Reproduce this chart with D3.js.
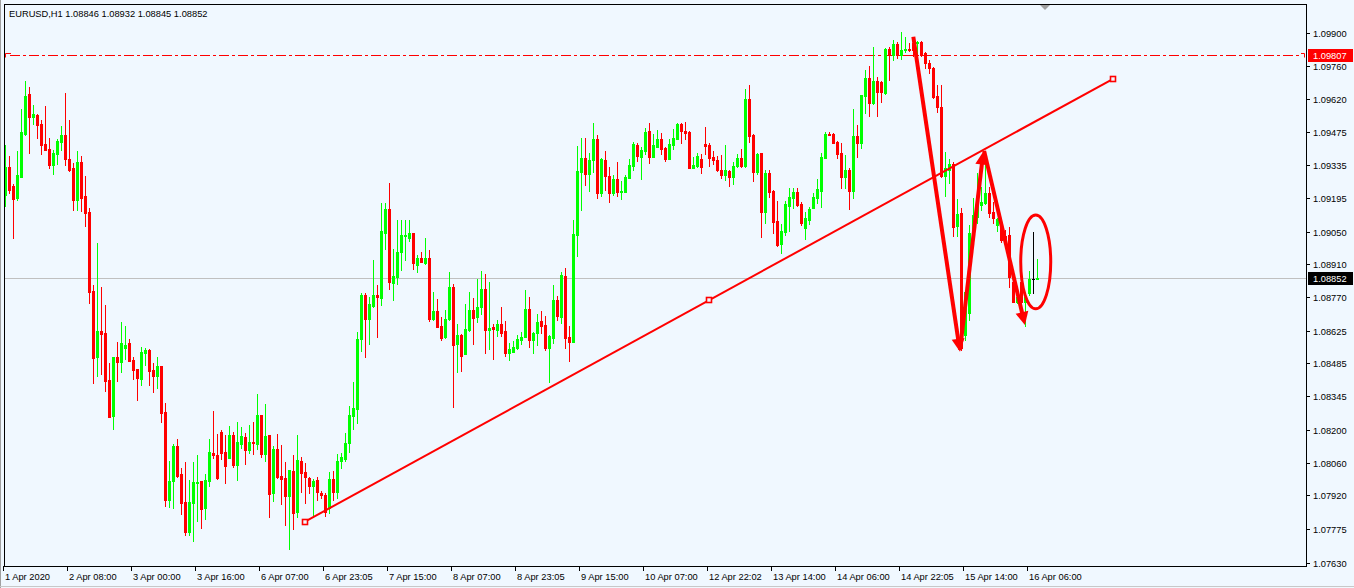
<!DOCTYPE html>
<html><head><meta charset="utf-8">
<script src="https://cdn.jsdelivr.net/npm/d3@7"></script>
<style>
html,body{margin:0;padding:0;background:#F0F8FF;overflow:hidden;}
svg{display:block;}
text{font-family:Tahoma,"Liberation Sans",Arial,sans-serif;font-size:9.3px;fill:#000;}
</style></head><body>
<svg id="c" width="1354" height="588"></svg>
<script>
const headerText = "EURUSD,H1  1.08846 1.08932 1.08845 1.08852";
const openP = [1.09207,1.09327,1.09245,1.09195,1.09283,1.09468,1.09640,1.09543,1.09549,1.09511,
1.09426,1.09404,1.09337,1.09383,1.09434,1.09464,1.09361,1.09323,1.09186,1.09348,
1.09203,1.09134,1.08796,1.08514,1.08624,1.08615,1.08414,1.08261,1.08513,1.08492,
1.08552,1.08573,1.08500,1.08461,1.08420,1.08531,1.08543,1.08458,1.08432,1.08474,
1.08277,1.07901,1.07982,1.08131,1.08012,1.07892,1.07764,1.07888,1.07973,1.07980,
1.07867,1.07982,1.08101,1.08093,1.08191,1.08105,1.08081,1.08178,1.08051,1.08141,
1.08170,1.08115,1.08148,1.08141,1.08264,1.08098,1.08178,1.07931,1.08118,1.08004,
1.07995,1.07918,1.08025,1.07850,1.08067,1.08020,1.07993,1.07960,1.07985,1.07928,
1.07921,1.07864,1.07988,1.07935,1.08067,1.08077,1.08143,1.08260,1.08291,1.08590,
1.08778,1.08675,1.08732,1.08778,1.08767,1.09044,1.09147,1.08831,1.08857,1.08963,
1.09031,1.09023,1.09044,1.08907,1.08937,1.08916,1.08937,1.08675,1.08710,1.08645,
1.08600,1.08675,1.08813,1.08570,1.08607,1.08527,1.08628,1.08714,1.08684,1.08727,
1.08804,1.08630,1.08641,1.08630,1.08654,1.08625,1.08531,1.08535,1.08552,1.08587,
1.08600,1.08718,1.08587,1.08617,1.08668,1.08651,1.08552,1.08595,1.08757,1.08685,
1.08860,1.08600,1.08578,1.09037,1.09307,1.09367,1.09298,1.09358,1.09448,1.09217,
1.09358,1.09290,1.09217,1.09277,1.09221,1.09221,1.09281,1.09333,1.09423,1.09371,
1.09397,1.09483,1.09371,1.09414,1.09448,1.09410,1.09363,1.09423,1.09448,1.09513,
1.09483,1.09478,1.09324,1.09333,1.09361,1.09426,1.09421,1.09370,1.09357,1.09314,
1.09294,1.09310,1.09285,1.09331,1.09366,1.09331,1.09618,1.09464,1.09306,1.09387,
1.09134,1.09301,1.09224,1.09097,1.08998,1.09050,1.09161,1.09195,1.09221,1.09170,
1.09067,1.09101,1.09153,1.09195,1.09225,1.09366,1.09470,1.09470,1.09435,1.09387,
1.09285,1.09315,1.09225,1.09461,1.09431,1.09633,1.09710,1.09600,1.09696,1.09693,
1.09643,1.09834,1.09808,1.09854,1.09808,1.09828,1.09831,1.09860,1.09857,1.09864,
1.09814,1.09774,1.09753,1.09631,1.09583,1.09288,1.09314,1.09340,1.09074,1.09129,
1.08607,1.08700,1.09028,1.09114,1.09164,1.09171,1.09214,1.09135,1.09078,1.09086,
1.09031,1.09036,1.08835,1.08750,1.08835,1.08750,1.08788,1.08847,1.08846];
const highP = [1.09421,1.09374,1.09254,1.09396,1.09574,1.09696,1.09670,1.09593,1.09555,1.09527,
1.09588,1.09450,1.09400,1.09447,1.09503,1.09644,1.09528,1.09343,1.09396,1.09374,
1.09288,1.09151,1.08820,1.09001,1.08811,1.08735,1.08487,1.08513,1.08577,1.08663,
1.08645,1.08590,1.08513,1.08463,1.08555,1.08551,1.08545,1.08487,1.08513,1.08476,
1.08316,1.08067,1.08140,1.08161,1.08037,1.08063,1.07985,1.08063,1.08094,1.07982,
1.08012,1.08161,1.08282,1.08184,1.08200,1.08178,1.08217,1.08191,1.08234,1.08213,
1.08187,1.08221,1.08234,1.08354,1.08266,1.08311,1.08180,1.08131,1.08183,1.08135,
1.08063,1.08030,1.08094,1.08178,1.08085,1.08057,1.07999,1.07988,1.07997,1.07940,
1.07928,1.08018,1.08024,1.08096,1.08100,1.08186,1.08303,1.08405,1.08619,1.08788,
1.08788,1.08769,1.08928,1.08821,1.09173,1.09173,1.09258,1.08976,1.09100,1.09100,
1.09100,1.09100,1.09046,1.08950,1.08963,1.09023,1.08971,1.08791,1.08761,1.08684,
1.08714,1.08877,1.08824,1.08654,1.08611,1.08740,1.08791,1.08766,1.08847,1.08881,
1.08868,1.08834,1.08655,1.08671,1.08727,1.08668,1.08571,1.08583,1.08608,1.08621,
1.08800,1.08770,1.08621,1.08698,1.08710,1.08688,1.08608,1.08821,1.08774,1.08877,
1.08894,1.08647,1.09101,1.09418,1.09453,1.09453,1.09388,1.09517,1.09465,1.09367,
1.09397,1.09328,1.09294,1.09350,1.09268,1.09294,1.09363,1.09435,1.09431,1.09414,
1.09495,1.09517,1.09470,1.09487,1.09474,1.09414,1.09448,1.09491,1.09517,1.09517,
1.09521,1.09480,1.09371,1.09388,1.09383,1.09498,1.09430,1.09396,1.09372,1.09378,
1.09421,1.09316,1.09348,1.09383,1.09404,1.09661,1.09678,1.09468,1.09387,1.09389,
1.09314,1.09314,1.09228,1.09183,1.09084,1.09183,1.09238,1.09238,1.09238,1.09178,
1.09135,1.09157,1.09217,1.09277,1.09388,1.09478,1.09478,1.09474,1.09440,1.09430,
1.09378,1.09324,1.09577,1.09508,1.09637,1.09743,1.09760,1.09843,1.09711,1.09695,
1.09836,1.09843,1.09871,1.09864,1.09904,1.09885,1.09857,1.09885,1.09868,1.09868,
1.09819,1.09786,1.09757,1.09678,1.09678,1.09393,1.09360,1.09350,1.09189,1.09150,
1.08797,1.09078,1.09193,1.09300,1.09243,1.09378,1.09243,1.09178,1.09107,1.09093,
1.09057,1.09071,1.08871,1.08793,1.08843,1.08778,1.08883,1.09050,1.08932];
const lowP = [1.09161,1.09217,1.09024,1.09186,1.09283,1.09464,1.09388,1.09511,1.09453,1.09383,
1.09400,1.09323,1.09298,1.09341,1.09400,1.09337,1.09310,1.09143,1.09143,1.09140,
1.09075,1.08745,1.08402,1.08432,1.08441,1.08368,1.08257,1.08205,1.08411,1.08450,
1.08504,1.08497,1.08420,1.08330,1.08394,1.08480,1.08394,1.08364,1.08381,1.08235,
1.07875,1.07871,1.07867,1.07999,1.07841,1.07751,1.07751,1.07725,1.07811,1.07781,
1.07820,1.07961,1.08081,1.07991,1.08077,1.07974,1.08079,1.08043,1.07987,1.08124,
1.08055,1.08102,1.08098,1.08120,1.08085,1.08068,1.07828,1.07897,1.07995,1.07884,
1.07794,1.07688,1.07777,1.07825,1.07935,1.07886,1.07928,1.07828,1.07900,1.07907,
1.07832,1.07845,1.07900,1.07907,1.08038,1.08067,1.08107,1.08204,1.08231,1.08540,
1.08514,1.08570,1.08728,1.08600,1.08735,1.08976,1.08804,1.08758,1.08826,1.08886,
1.08928,1.09010,1.08890,1.08877,1.08918,1.08911,1.08667,1.08671,1.08639,1.08585,
1.08595,1.08671,1.08300,1.08450,1.08454,1.08525,1.08626,1.08570,1.08663,1.08697,
1.08531,1.08548,1.08505,1.08604,1.08604,1.08518,1.08501,1.08533,1.08548,1.08570,
1.08598,1.08557,1.08531,1.08565,1.08617,1.08544,1.08407,1.08574,1.08672,1.08660,
1.08552,1.08497,1.08576,1.08947,1.09144,1.09251,1.09225,1.09307,1.09195,1.09204,
1.09230,1.09178,1.09208,1.09204,1.09191,1.09219,1.09279,1.09315,1.09354,1.09277,
1.09384,1.09345,1.09369,1.09412,1.09384,1.09354,1.09361,1.09405,1.09446,1.09431,
1.09448,1.09322,1.09322,1.09328,1.09303,1.09383,1.09331,1.09340,1.09311,1.09281,
1.09273,1.09247,1.09255,1.09329,1.09327,1.09329,1.09434,1.09267,1.09297,1.09028,
1.09088,1.09200,1.09045,1.08990,1.08960,1.09037,1.09054,1.09153,1.09161,1.09080,
1.09020,1.09084,1.09151,1.09174,1.09157,1.09364,1.09462,1.09429,1.09366,1.09238,
1.09238,1.09148,1.09195,1.09371,1.09410,1.09560,1.09545,1.09598,1.09545,1.09607,
1.09641,1.09700,1.09786,1.09793,1.09789,1.09821,1.09826,1.09803,1.09803,1.09803,
1.09750,1.09729,1.09621,1.09564,1.09285,1.09203,1.09257,1.09031,1.09031,1.08543,
1.08585,1.08671,1.09000,1.09086,1.09143,1.09168,1.09114,1.09086,1.09054,1.09007,
1.09007,1.08814,1.08748,1.08743,1.08714,1.08645,1.08778,1.08788,1.08845];
const closeP = [1.09326,1.09228,1.09190,1.09291,1.09477,1.09631,1.09543,1.09554,1.09507,1.09421,
1.09400,1.09337,1.09387,1.09438,1.09464,1.09361,1.09314,1.09186,1.09348,1.09195,
1.09131,1.08793,1.08508,1.08624,1.08612,1.08411,1.08257,1.08513,1.08491,1.08573,
1.08564,1.08497,1.08458,1.08424,1.08534,1.08543,1.08454,1.08432,1.08474,1.08274,
1.07901,1.07982,1.08131,1.08004,1.07888,1.07764,1.07892,1.07978,1.07978,1.07862,
1.07987,1.08105,1.08094,1.07995,1.08102,1.08047,1.08180,1.08051,1.08148,1.08174,
1.08115,1.08148,1.08144,1.08264,1.08098,1.08174,1.07927,1.08118,1.07999,1.07991,
1.07918,1.08030,1.07845,1.08071,1.08017,1.07997,1.07960,1.07981,1.07935,1.07923,
1.07850,1.07988,1.07935,1.08067,1.08083,1.08143,1.08264,1.08295,1.08590,1.08778,
1.08675,1.08740,1.08778,1.08771,1.09053,1.09147,1.08833,1.08860,1.08963,1.09036,
1.09036,1.09044,1.08916,1.08937,1.08920,1.08937,1.08675,1.08710,1.08641,1.08595,
1.08675,1.08813,1.08565,1.08607,1.08518,1.08633,1.08714,1.08680,1.08727,1.08804,
1.08630,1.08637,1.08634,1.08654,1.08617,1.08531,1.08548,1.08557,1.08591,1.08600,
1.08718,1.08587,1.08617,1.08664,1.08647,1.08552,1.08604,1.08757,1.08690,1.08864,
1.08595,1.08578,1.09041,1.09311,1.09367,1.09298,1.09358,1.09448,1.09217,1.09363,
1.09290,1.09217,1.09277,1.09221,1.09225,1.09285,1.09337,1.09427,1.09375,1.09401,
1.09478,1.09371,1.09423,1.09448,1.09405,1.09363,1.09427,1.09453,1.09513,1.09483,
1.09474,1.09324,1.09337,1.09375,1.09327,1.09417,1.09366,1.09357,1.09315,1.09294,
1.09314,1.09285,1.09331,1.09366,1.09331,1.09618,1.09460,1.09306,1.09383,1.09134,
1.09301,1.09220,1.09093,1.08994,1.09054,1.09168,1.09200,1.09221,1.09165,1.09088,
1.09110,1.09148,1.09200,1.09234,1.09370,1.09470,1.09464,1.09431,1.09383,1.09285,
1.09315,1.09225,1.09461,1.09431,1.09635,1.09710,1.09600,1.09696,1.09650,1.09650,
1.09834,1.09808,1.09854,1.09808,1.09828,1.09831,1.09828,1.09828,1.09864,1.09807,
1.09774,1.09750,1.09628,1.09583,1.09288,1.09321,1.09340,1.09071,1.09126,1.08550,
1.08793,1.09043,1.09121,1.09178,1.09178,1.09214,1.09131,1.09107,1.09103,1.09014,
1.09014,1.08857,1.08750,1.08771,1.08750,1.08771,1.08848,1.08847,1.08852];

const priceTicks = [1.09900,1.09760,1.09620,1.09475,1.09335,1.09195,1.09050,1.08910,1.08770,
  1.08625,1.08485,1.08345,1.08200,1.08060,1.07920,1.07775,1.07630];
const timeLabels = ["1 Apr 2020","2 Apr 08:00","3 Apr 00:00","3 Apr 16:00","6 Apr 07:00","6 Apr 23:05",
  "7 Apr 15:00","8 Apr 07:00","8 Apr 23:05","9 Apr 15:00","10 Apr 07:00","12 Apr 22:02","13 Apr 14:00",
  "14 Apr 06:00","14 Apr 22:05","15 Apr 14:00","16 Apr 06:00"];
const timeLabelBars = [0,16,32,48,64,80,96,112,128,144,160,176,192,208,224,240,256];
const bidPrice = 1.08852;
const hLinePrice = 1.09807;
const trendPoints = [[74.92,1.07807],[175.92,1.08756],[276.84,1.09704]];
const arrowPaths = [
  [[227.0,1.09885],[238.67,1.08535]],
  [[238.67,1.08543],[244.5,1.09393]],
  [[244.7,1.09396],[254.9,1.08650]]
];
const ellipseMark = {bar:257.6, price:1.08920, rBars:3.75, rPrice:0.00201};

const W=1354,H=588, L=4, T=4, R=1306, B=566;
const svg = d3.select("#c");
const x = d3.scaleLinear().domain([0,258]).range([5.33,1037.33]);
const y = d3.scaleLinear().domain([1.07630,1.09900]).range([562.9,33.3]);
const RED="#FF0000", GREEN="#00FF00";

svg.append("rect").attr("width",W).attr("height",H).attr("fill","#F0F8FF");
// window borders
svg.append("line").attr("x1",0.5).attr("x2",0.5).attr("y1",0).attr("y2",H).attr("stroke","#A0A0A0");
svg.append("line").attr("x1",0).attr("x2",W).attr("y1",H-1.5).attr("y2",H-1.5).attr("stroke","#C8C8C8");

svg.append("defs").append("clipPath").attr("id","plot").append("rect")
  .attr("x",L).attr("y",T).attr("width",R-L).attr("height",B-T);

const plot = svg.append("g").attr("clip-path","url(#plot)");

// bid line
plot.append("line").attr("x1",L).attr("x2",R)
  .attr("y1",Math.round(y(bidPrice))+0.5).attr("y2",Math.round(y(bidPrice))+0.5)
  .attr("stroke","#C0C0C0").attr("stroke-width",1);

// dash-dot horizontal line
const hy = Math.round(y(hLinePrice))+0.5;
plot.append("line").attr("x1",L+6).attr("x2",R-4).attr("y1",hy).attr("y2",hy)
  .attr("stroke",RED).attr("stroke-width",1).attr("stroke-dasharray","10,3,3,3");
plot.append("path").attr("d",`M${L+1.5},${hy+2}V${hy-2}H${L+7}`).attr("fill","none").attr("stroke",RED);
plot.append("path").attr("d",`M${R-5},${hy-2}H${R-1.5}V${hy+2}`).attr("fill","none").attr("stroke",RED);

// candles
const idx = d3.range(openP.length);
const cg = plot.append("g").attr("shape-rendering","crispEdges");
const colorOf = i => closeP[i]>openP[i] ? GREEN : (closeP[i]<openP[i] ? RED : "#000000");
cg.selectAll("rect.w").data(idx).join("rect").attr("class","w")
  .attr("x",i=>Math.floor(x(i))).attr("width",1)
  .attr("y",i=>Math.round(y(highP[i])))
  .attr("height",i=>Math.max(1,Math.round(y(lowP[i]))-Math.round(y(highP[i]))+1))
  .attr("fill",colorOf);
cg.selectAll("rect.b").data(idx).join("rect").attr("class","b")
  .attr("x",i=>Math.floor(x(i))-1).attr("width",i=> closeP[i]===openP[i]?3:3)
  .attr("y",i=>Math.round(y(Math.max(openP[i],closeP[i]))))
  .attr("height",i=>Math.max(1,Math.round(y(Math.min(openP[i],closeP[i])))-Math.round(y(Math.max(openP[i],closeP[i])))+1))
  .attr("fill",colorOf);

// trend line
plot.append("line")
  .attr("x1",x(trendPoints[0][0])).attr("y1",y(trendPoints[0][1]))
  .attr("x2",x(trendPoints[2][0])).attr("y2",y(trendPoints[2][1]))
  .attr("stroke",RED).attr("stroke-width",2);
plot.selectAll("rect.tp").data(trendPoints).join("rect").attr("class","tp")
  .attr("x",d=>Math.round(x(d[0]))-2.5).attr("y",d=>Math.round(y(d[1]))-2.5)
  .attr("width",5).attr("height",5).attr("fill","#F0F8FF").attr("stroke",RED).attr("stroke-width",1.6);

// arrows
arrowPaths.forEach(a=>{
  const x1=x(a[0][0]), y1=y(a[0][1]), x2=x(a[1][0]), y2=y(a[1][1]);
  const dx=x2-x1, dy=y2-y1, len=Math.hypot(dx,dy), ux=dx/len, uy=dy/len;
  const hl=13, hw=6.5;
  const bx=x2-ux*hl, by=y2-uy*hl;
  plot.append("line").attr("x1",x1).attr("y1",y1).attr("x2",bx+ux*2).attr("y2",by+uy*2)
    .attr("stroke",RED).attr("stroke-width",4);
  plot.append("path").attr("d",`M${x2},${y2}L${bx-uy*hw},${by+ux*hw}L${bx+uy*hw},${by-ux*hw}Z`)
    .attr("fill",RED);
});

// ellipse
const ecx = x(ellipseMark.bar), ecy = y(ellipseMark.price);
plot.append("ellipse").attr("cx",ecx).attr("cy",ecy)
  .attr("rx",x(ellipseMark.bar+ellipseMark.rBars)-ecx)
  .attr("ry",y(ellipseMark.price-ellipseMark.rPrice)-ecy)
  .attr("fill","none").attr("stroke",RED).attr("stroke-width",3);

// frame
const fr = svg.append("g").attr("shape-rendering","crispEdges");
fr.append("line").attr("x1",L).attr("x2",R+1).attr("y1",T+0.5).attr("y2",T+0.5).attr("stroke","#000");
fr.append("line").attr("x1",L+0.5).attr("x2",L+0.5).attr("y1",T).attr("y2",B+1).attr("stroke","#000");
fr.append("line").attr("x1",R+0.5).attr("x2",R+0.5).attr("y1",T).attr("y2",B+1).attr("stroke","#000");
fr.append("line").attr("x1",L).attr("x2",R+1).attr("y1",B+0.5).attr("y2",B+0.5).attr("stroke","#000");

// shift marker
svg.append("path").attr("d","M1040,5L1050,5L1045,10Z").attr("fill","#A0A0A0");

// header
svg.append("text").attr("x",9).attr("y",17).text(headerText);

// price axis
const pa = svg.append("g");
pa.selectAll("line").data(priceTicks).join("line")
  .attr("x1",R+1).attr("x2",R+4)
  .attr("y1",d=>Math.round(y(d))+0.5).attr("y2",d=>Math.round(y(d))+0.5)
  .attr("stroke","#000").attr("shape-rendering","crispEdges");
pa.selectAll("text").data(priceTicks).join("text")
  .attr("x",R+7).attr("y",d=>Math.round(y(d))+3.5).text(d=>d.toFixed(5));

function priceTag(p, bg){
  const yy = Math.round(y(p));
  svg.append("rect").attr("x",R+2).attr("y",yy-6).attr("width",45).attr("height",13).attr("fill",bg);
  svg.append("text").attr("x",R+7).attr("y",yy+3.5).attr("fill","#FFFFFF").style("fill","#FFFFFF").text(p.toFixed(5));
}
priceTag(hLinePrice, RED);
priceTag(bidPrice, "#000000");

// time axis
const ta = svg.append("g");
ta.selectAll("line").data(timeLabelBars).join("line")
  .attr("x1",d=>Math.round(x(d))-1.5).attr("x2",d=>Math.round(x(d))-1.5)
  .attr("y1",B).attr("y2",B+5).attr("stroke","#000").attr("shape-rendering","crispEdges");
ta.selectAll("text").data(timeLabelBars).join("text")
  .attr("x",d=>Math.round(x(d))+0).attr("y",B+14)
  .text((d,i)=>timeLabels[i]);
</script>
</body></html>
